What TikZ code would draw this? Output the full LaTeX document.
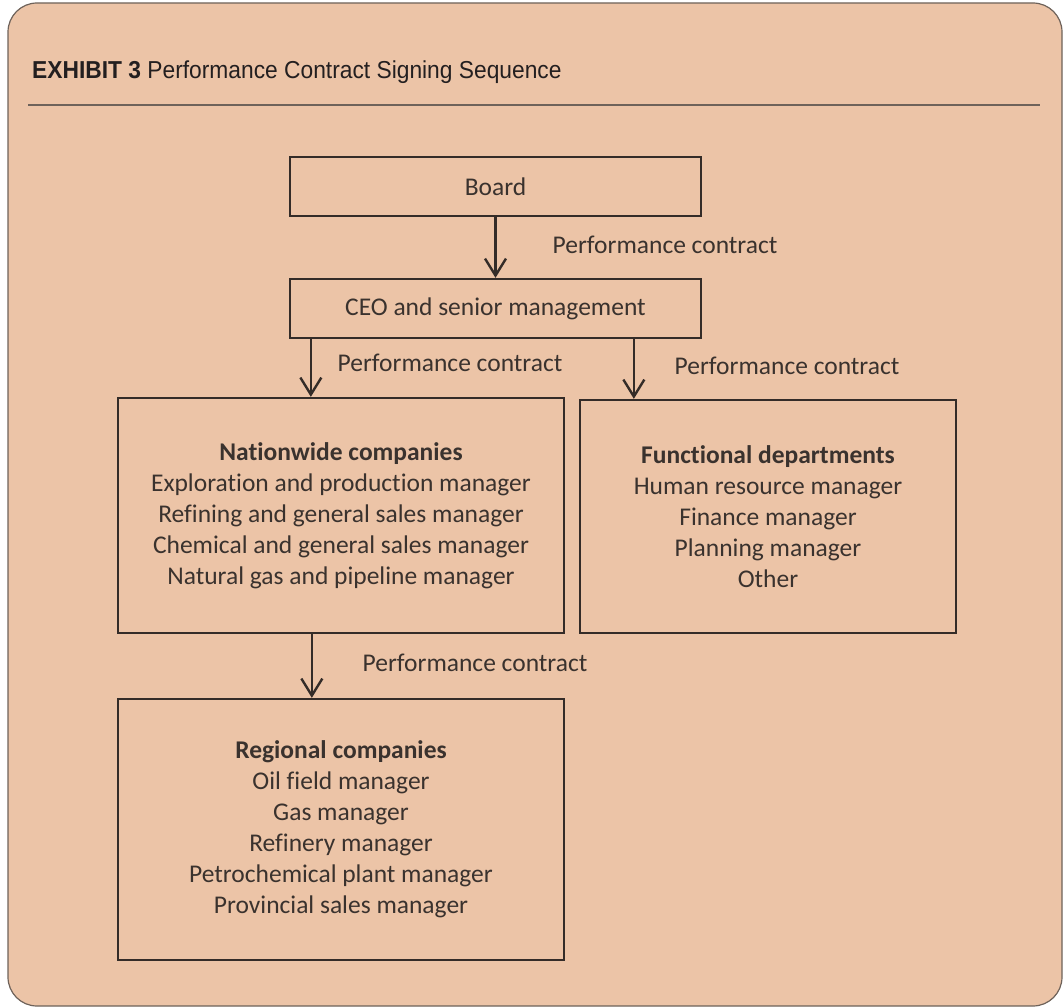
\documentclass[tikz,border=0pt]{standalone}
\usepackage{fontspec}
\setmainfont[Ligatures=NoCommon]{Carlito}
\newfontfamily\titlefont[FakeStretch=0.93]{Liberation Sans}
\usetikzlibrary{arrows.meta}
\definecolor{peach}{RGB}{236,196,167}
\definecolor{ink}{RGB}{52,44,40}
\definecolor{textink}{RGB}{58,50,46}
\definecolor{frame}{RGB}{110,98,90}
\definecolor{titleink}{RGB}{35,31,32}
\begin{document}
\begin{tikzpicture}[x=1pt,y=-1pt,
  box/.style={draw=ink, line width=2.3pt, text=textink, align=center, inner sep=0pt,
    font=\fontsize{25.5}{31}\selectfont},
  lbl/.style={text=textink, inner sep=0pt, font=\fontsize{25.5}{31}\selectfont},
  arr/.style={draw=ink, line width=2.4pt,
    -{Straight Barb[length=17pt,width=21pt,line width=2.4pt]}}]
\useasboundingbox (0,0) rectangle (1063,1008);
\draw[fill=peach, draw=frame, line width=1.2pt, rounded corners=29pt] (8,3) rectangle (1062,1006);
\node[anchor=base west, inner sep=0pt, text=titleink, font=\titlefont\fontsize{24.5}{28}\selectfont]
  (title) at (32,79) {\textbf{EXHIBIT 3} Performance Contract Signing Sequence};
\draw[frame, line width=1.2pt] (28,105) -- (1040,105);

\node[box, minimum width=411pt, minimum height=59pt] (board) at (495.5,186.5) {Board};
\node[box, minimum width=411pt, minimum height=59pt] (ceo) at (495.5,308.5) {CEO and senior management};
\node[box, minimum width=446pt, minimum height=235pt] (nat) at (341,515.5)
  {\textbf{Nationwide companies}\\Exploration and production manager\\Refining and general sales manager\\Chemical and general sales manager\\Natural gas and pipeline manager};
\node[box, minimum width=376pt, minimum height=233pt] (func) at (768,516.5)
  {\textbf{Functional departments}\\Human resource manager\\Finance manager\\Planning manager\\Other};
\node[box, minimum width=446pt, minimum height=261pt] (reg) at (341,829.5)
  {\textbf{Regional companies}\\Oil field manager\\Gas manager\\Refinery manager\\Petrochemical plant manager\\Provincial sales manager};

\draw[arr] (board) -- (ceo);
\draw[arr] ([xshift=22pt]ceo.south west) -- ([xshift=22pt]ceo.south west |- nat.north);
\draw[arr] ([xshift=345pt]ceo.south west) -- ([xshift=345pt]ceo.south west |- func.north);
\draw[arr] ([xshift=195pt]nat.south west) -- ([xshift=195pt]nat.south west |- reg.north);

\node[lbl] (l1) at (665,245) {Performance contract};
\node[lbl] (l2) at (450,363) {Performance contract};
\node[lbl] (l3) at (787,366) {Performance contract};
\node[lbl] (l4) at (475,663) {Performance contract};
\end{tikzpicture}
\end{document}
